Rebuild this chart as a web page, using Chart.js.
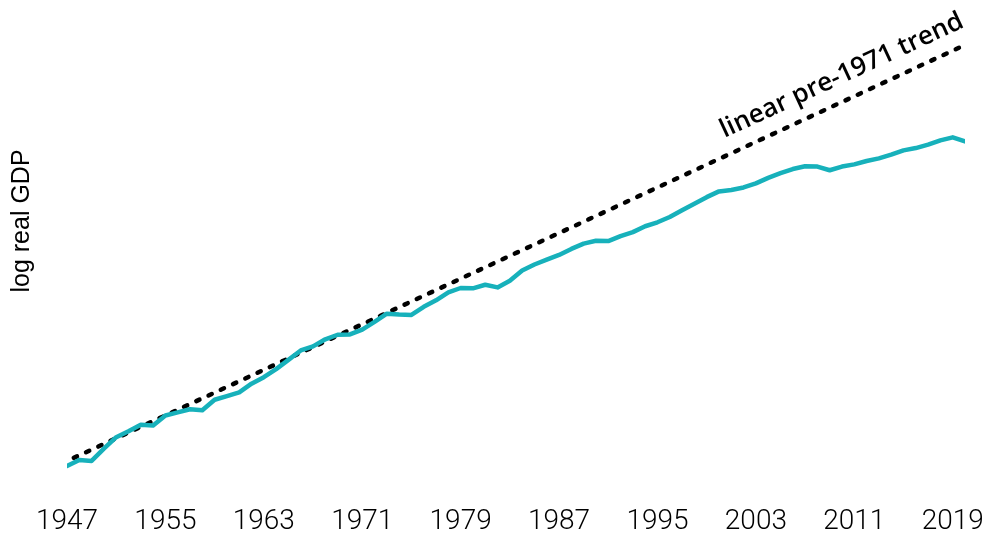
<!DOCTYPE html>
<html><head><meta charset="utf-8">
<script src="https://cdn.jsdelivr.net/npm/chart.js@4/dist/chart.umd.min.js"></script>
<style>html,body{margin:0;padding:0;background:#fff}#wrap{width:984px;height:535px;position:relative}</style>
</head><body><div id="wrap"><canvas id="c"></canvas></div>
<script>
const years = [1947,1948,1949,1950,1951,1952,1953,1954,1955,1956,1957,1958,1959,1960,1961,1962,1963,1964,1965,1966,1967,1968,1969,1970,1971,1972,1973,1974,1975,1976,1977,1978,1979,1980,1981,1982,1983,1984,1985,1986,1987,1988,1989,1990,1991,1992,1993,1994,1995,1996,1997,1998,1999,2000,2001,2002,2003,2004,2005,2006,2007,2008,2009,2010,2011,2012,2013,2014,2015,2016,2017,2018,2019,2020];
const logRealGDP = [7.618,7.659,7.653,7.736,7.814,7.854,7.899,7.894,7.962,7.983,8.004,7.997,8.069,8.094,8.119,8.178,8.222,8.277,8.340,8.404,8.432,8.480,8.511,8.513,8.546,8.598,8.654,8.649,8.646,8.701,8.745,8.799,8.829,8.827,8.851,8.833,8.878,8.948,8.989,9.022,9.054,9.095,9.131,9.150,9.148,9.182,9.209,9.249,9.276,9.312,9.358,9.402,9.447,9.486,9.496,9.513,9.541,9.578,9.610,9.638,9.657,9.655,9.630,9.655,9.670,9.693,9.711,9.736,9.765,9.781,9.804,9.833,9.854,9.826];
const trendYears = [1947, 2020];
const trendLog = [7.652, 10.482];
const tickYears = [1947,1955,1963,1971,1979,1987,1995,2003,2011,2019];
const yTitle = 'log real GDP';
const trendLabel = 'linear pre-1971 trend';

const gdpPoints = years.map((y, i) => ({x: y, y: logRealGDP[i]}));
const trendPoints = trendYears.map((y, i) => ({x: y, y: trendLog[i]}));

const textPlugin = {
  id: 'texts',
  afterDraw(chart) {
    const ctx = chart.ctx;
    const xs = chart.scales.x, ys = chart.scales.y;
    ctx.save();
    ctx.translate(22, 221);
    ctx.rotate(-Math.PI / 2);
    ctx.font = '25px "Liberation Sans", Arial, sans-serif';
    ctx.fillStyle = '#000';
    ctx.textAlign = 'center';
    ctx.textBaseline = 'middle';
    ctx.fillText(yTitle, 0, 0);
    ctx.restore();
    const x0 = xs.getPixelForValue(trendYears[0]), y0 = ys.getPixelForValue(trendLog[0]);
    const x1 = xs.getPixelForValue(trendYears[1]), y1 = ys.getPixelForValue(trendLog[1]);
    const ang = Math.atan2(y1 - y0, x1 - x0);
    const ax = xs.getPixelForValue(2010.8);
    const t = (ax - x0) / (x1 - x0);
    const ay = y0 + t * (y1 - y0);
    const off = 24;
    ctx.save();
    ctx.translate(ax + off * Math.sin(ang), ay - off * Math.cos(ang));
    ctx.rotate(ang);
    ctx.font = '600 26px "Open Sans", "Noto Sans", sans-serif';
    ctx.fillStyle = '#000';
    ctx.textAlign = 'center';
    ctx.textBaseline = 'middle';
    ctx.fillText(trendLabel, 0, 0);
    ctx.restore();
  }
};

new Chart(document.getElementById('c'), {
  type: 'line',
  data: {
    datasets: [
      {data: gdpPoints, borderColor: '#17b1bb', borderWidth: 4.5, pointRadius: 0, tension: 0, order: 0, borderJoinStyle: 'round', borderCapStyle: 'round'},
      {data: trendPoints, borderColor: '#000', borderWidth: 4.5, borderDash: [3.5, 10], borderDashOffset: 6, borderCapStyle: 'round', pointRadius: 0, order: 1}
    ]
  },
  options: {
    responsive: true, maintainAspectRatio: false, animation: false,
    layout: {padding: {left: 67, right: 19, top: 5, bottom: 0}},
    plugins: {legend: {display: false}, tooltip: {enabled: false}},
    scales: {
      x: {
        type: 'linear', min: 1947, max: 2020,
        grid: {display: false, drawTicks: false}, border: {display: false},
        afterBuildTicks: s => { s.ticks = tickYears.map(v => ({value: v})); },
        afterFit: s => { s.paddingLeft = 0; s.paddingRight = 0; s.height = 45; },
        ticks: {autoSkip: false, maxRotation: 0, padding: 15, color: '#000',
          font: {family: '"Roboto", sans-serif', size: 28, weight: 300},
          callback: v => String(v)}
      },
      y: {display: false, min: 7.455, max: 10.754}
    }
  },
  plugins: [textPlugin]
});
</script></body></html>
